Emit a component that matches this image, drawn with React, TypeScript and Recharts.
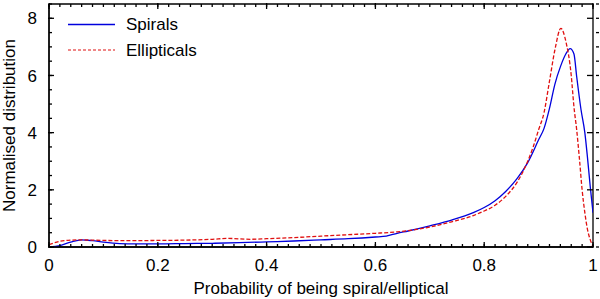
import React from 'react';
import { LineChart, Line, XAxis, YAxis, Legend, CartesianGrid } from 'recharts';

const spiralX = [0, 0.02, 0.04, 0.06, 0.08, 0.10, 0.13, 0.16, 0.20, 0.25, 0.30, 0.35, 0.40, 0.45, 0.50, 0.55, 0.60, 0.62, 0.64, 0.66, 0.70, 0.74, 0.78, 0.80, 0.82, 0.84, 0.86, 0.88, 0.90, 0.91, 0.92, 0.93, 0.94, 0.95, 0.958, 0.965, 0.97, 0.978, 0.985, 0.99, 0.995, 1.0];
const spiralY = [0.0, 0.05, 0.17, 0.25, 0.22, 0.17, 0.12, 0.11, 0.11, 0.12, 0.13, 0.15, 0.18, 0.21, 0.25, 0.29, 0.35, 0.38, 0.48, 0.56, 0.74, 0.94, 1.2, 1.38, 1.62, 1.95, 2.38, 2.95, 3.75, 4.15, 4.85, 5.7, 6.3, 6.75, 6.94, 6.75, 5.96, 4.8, 4.0, 3.1, 2.1, 1.2];

const ellipticalX = [0, 0.02, 0.04, 0.06, 0.08, 0.10, 0.15, 0.20, 0.25, 0.30, 0.33, 0.37, 0.40, 0.45, 0.50, 0.55, 0.60, 0.64, 0.66, 0.70, 0.74, 0.78, 0.80, 0.82, 0.84, 0.86, 0.88, 0.89, 0.90, 0.91, 0.92, 0.93, 0.941, 0.95, 0.96, 0.965, 0.97, 0.975, 0.98, 0.985, 0.99, 0.995, 1.0];
const ellipticalY = [0.08, 0.2, 0.24, 0.25, 0.24, 0.23, 0.22, 0.23, 0.24, 0.27, 0.30, 0.27, 0.29, 0.33, 0.38, 0.43, 0.48, 0.53, 0.57, 0.70, 0.88, 1.1, 1.26, 1.46, 1.78, 2.25, 3.0, 3.5, 4.1, 4.7, 5.8, 6.9, 7.65, 7.2, 6.0, 4.9, 4.1, 3.1, 2.0, 1.2, 0.6, 0.25, 0.02];

const xMajorTicks = [0, 0.2, 0.4, 0.6, 0.8, 1];
const xTickLabels = ['0', '0.2', '0.4', '0.6', '0.8', '1'];
const yMajorTicks = [0, 2, 4, 6, 8];
const yTickLabels = ['0', '2', '4', '6', '8'];

const seriesNames = ['Spirals', 'Ellipticals'];

const spiralData = spiralX.map((x, i) => ({ x, y: spiralY[i] }));
const ellipticalData = ellipticalX.map((x, i) => ({ x, y: ellipticalY[i] }));

const xMinorTicks: number[] = [];
for (let i = 0; i <= 50; i++) xMinorTicks.push(i / 50);
const yMinorTicks: number[] = [];
for (let i = 0; i <= 17; i++) yMinorTicks.push(i / 2);

const FONT = '"Liberation Sans", Arial, Helvetica, sans-serif';
const TICK = '#000';

const majorIndex = (arr: number[], v: number) => arr.findIndex((m) => Math.abs(m - v) < 1e-6);
const fmtX = (v: number) => { const i = majorIndex(xMajorTicks, v); return i >= 0 ? xTickLabels[i] : ''; };
const fmtY = (v: number) => { const i = majorIndex(yMajorTicks, v); return i >= 0 ? yTickLabels[i] : ''; };
const blank = () => '';

const LegendContent = () => (
  <svg width={200} height={60} style={{ display: 'block' }}>
    <line x1={8} x2={55} y1={14.5} y2={14.5} stroke="#0000dd" strokeWidth={1.3} />
    <text x={66} y={14.5} dominantBaseline="central" fontSize={17} fontFamily={FONT} fill="#000">
      {seriesNames[0]}
    </text>
    <line x1={8} x2={55} y1={40} y2={40} stroke="#e01010" strokeWidth={1.2} strokeDasharray="3 2" />
    <text x={66} y={40} dominantBaseline="central" fontSize={17} fontFamily={FONT} fill="#000">
      {seriesNames[1]}
    </text>
  </svg>
);

const frame = { stroke: '#000', strokeWidth: 1.3 };
const tickStroke = { stroke: TICK, strokeWidth: 1.3 };
const labelStyle = { fontSize: 17, fontFamily: FONT, fill: '#000' };

const hidden = {
  dataKey: 'y',
  stroke: 'none',
  dot: false,
  activeDot: false,
  legendType: 'none' as const,
  isAnimationActive: false,
};

const frameRows = (p: any) => [p.offset.top, p.offset.top + p.offset.height];
const frameCols = (p: any) => [p.offset.left, p.offset.left + p.offset.width];

export default function App() {
  return (
    <div style={{ position: 'absolute', left: 0, top: 0 }}>
      <LineChart width={600} height={299} margin={{ top: 0, right: 0, bottom: 0, left: 0 }}>
        <CartesianGrid
          xAxisId="x"
          yAxisId="y"
          stroke="#000"
          strokeWidth={1.3}
          horizontalCoordinatesGenerator={frameRows}
          verticalCoordinatesGenerator={frameCols}
        />
        {/* bottom: minor ticks */}
        <XAxis
          xAxisId="bminor"
          dataKey="x"
          type="number"
          domain={[0, 1]}
          ticks={xMinorTicks}
          interval={0}
          tickSize={-3}
          tickLine={tickStroke}
          tickFormatter={blank}
          height={1}
          axisLine={frame}
          allowDataOverflow
        />
        {/* bottom: major ticks + labels */}
        <XAxis
          xAxisId="x"
          dataKey="x"
          type="number"
          domain={[0, 1]}
          ticks={xMajorTicks}
          interval={0}
          tickSize={-6}
          tickMargin={17}
          tickLine={tickStroke}
          tick={labelStyle}
          tickFormatter={fmtX}
          height={51}
          axisLine={false}
          allowDataOverflow
          label={{
            value: 'Probability of being spiral/elliptical',
            position: 'insideBottom',
            offset: 5,
            style: labelStyle,
          }}
        />
        {/* top */}
        <XAxis
          xAxisId="tminor"
          orientation="top"
          dataKey="x"
          type="number"
          domain={[0, 1]}
          ticks={xMinorTicks}
          interval={0}
          tickSize={-3}
          tickLine={tickStroke}
          tickFormatter={blank}
          height={1}
          axisLine={false}
          allowDataOverflow
        />
        <XAxis
          xAxisId="top"
          orientation="top"
          dataKey="x"
          type="number"
          domain={[0, 1]}
          ticks={xMajorTicks}
          interval={0}
          tickSize={-6}
          tickLine={tickStroke}
          tickFormatter={blank}
          height={3}
          axisLine={false}
          allowDataOverflow
        />
        {/* left */}
        <YAxis
          yAxisId="lminor"
          type="number"
          domain={[0, 8.5]}
          ticks={yMinorTicks}
          interval={0}
          tickSize={-3}
          tickLine={tickStroke}
          tickFormatter={blank}
          width={1}
          axisLine={frame}
          allowDataOverflow
        />
        <YAxis
          yAxisId="y"
          type="number"
          domain={[0, 8.5]}
          ticks={yMajorTicks}
          interval={0}
          tickSize={-6}
          tickMargin={17}
          tickLine={tickStroke}
          tick={labelStyle}
          tickFormatter={fmtY}
          width={48}
          axisLine={false}
          allowDataOverflow
          label={{
            value: 'Normalised distribution',
            angle: -90,
            position: 'insideLeft',
            offset: 9,
            style: { ...labelStyle, textAnchor: 'middle' },
          }}
        />
        {/* right */}
        <YAxis
          yAxisId="rminor"
          orientation="right"
          type="number"
          domain={[0, 8.5]}
          ticks={yMinorTicks}
          interval={0}
          tickSize={-3}
          tickLine={tickStroke}
          tickFormatter={blank}
          width={1}
          axisLine={false}
          allowDataOverflow
        />
        <YAxis
          yAxisId="right"
          orientation="right"
          type="number"
          domain={[0, 8.5]}
          ticks={yMajorTicks}
          interval={0}
          tickSize={-6}
          tickLine={tickStroke}
          tickFormatter={blank}
          width={6}
          axisLine={false}
          allowDataOverflow
        />
        <Legend
          layout="vertical"
          verticalAlign="middle"
          align="center"
          content={<LegendContent />}
          wrapperStyle={{ left: 60, top: 10, width: 200, height: 60 }}
        />
        <Line xAxisId="bminor" yAxisId="lminor" data={spiralData} {...hidden} />
        <Line xAxisId="tminor" yAxisId="rminor" data={spiralData} {...hidden} />
        <Line xAxisId="top" yAxisId="right" data={spiralData} {...hidden} />
        <Line
          xAxisId="x"
          yAxisId="y"
          data={spiralData}
          dataKey="y"
          name={seriesNames[0]}
          type="monotone"
          stroke="#0000dd"
          strokeWidth={1.3}
          dot={false}
          isAnimationActive={false}
        />
        <Line
          xAxisId="x"
          yAxisId="y"
          data={ellipticalData}
          dataKey="y"
          name={seriesNames[1]}
          type="monotone"
          stroke="#e01010"
          strokeWidth={1.3}
          strokeDasharray="4 2"
          dot={false}
          isAnimationActive={false}
        />
      </LineChart>
    </div>
  );
}
